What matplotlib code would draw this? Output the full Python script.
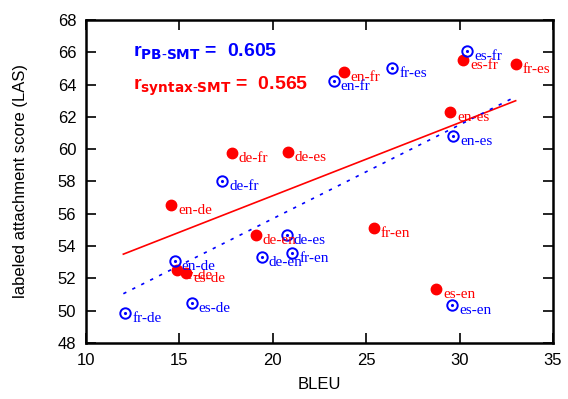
import matplotlib
matplotlib.use("Agg")
import matplotlib.pyplot as plt
import numpy as np

# syntax-SMT (red, filled)
syn_labels = ["de-fr", "de-es", "en-fr", "es-fr", "fr-es", "en-es",
              "en-de", "de-en", "fr-de", "es-de", "fr-en", "es-en"]
syn_bleu = [17.8, 20.8, 23.8, 30.2, 33.0, 29.5, 14.55, 19.1, 14.85, 15.35, 25.4, 28.75]
syn_las = [59.75, 59.85, 64.8, 65.5, 65.3, 62.3, 56.55, 54.7, 52.5, 52.35, 55.15, 51.35]

# PB-SMT (blue, open)
pb_labels = ["de-fr", "en-fr", "fr-es", "es-fr", "en-es", "en-de",
             "fr-de", "es-de", "de-en", "de-es", "fr-en", "es-en"]
pb_bleu = [17.3, 23.25, 26.4, 30.4, 29.65, 14.75, 12.1, 15.65, 19.4, 20.75, 21.05, 29.6]
pb_las = [58.05, 64.2, 65.05, 66.1, 60.8, 53.05, 49.85, 50.5, 53.3, 54.7, 53.6, 50.35]

# fitted lines (endpoints)
fit_x = [12.0, 33.0]
syn_fit = [53.5, 63.0]
pb_fit = [51.05, 63.25]

RED = "#ff0000"
BLUE = "#0000ff"

plt.rcParams["font.family"] = ["Liberation Sans", "DejaVu Sans"]

fig = plt.figure(figsize=(5.68, 3.99), dpi=100)
ax = fig.add_axes([0.1514, 0.1404, 0.8222, 0.8095])

ax.plot(fit_x, syn_fit, color=RED, lw=1.2)
ax.plot(fit_x, pb_fit, color=BLUE, lw=1.2, ls=(0, (2, 4)))

ax.plot(syn_bleu, syn_las, "o", color=RED, ms=7.5, mec=RED)
ax.plot(pb_bleu, pb_las, "o", mfc="none", mec=BLUE, ms=7.5, mew=1.4)
ax.plot(pb_bleu, pb_las, ".", color=BLUE, ms=2.5)

for x, y, s in zip(syn_bleu, syn_las, syn_labels):
    ax.annotate(s, (x, y), xytext=(5, -4), textcoords="offset points",
                ha="left", va="center", color=RED, fontsize=11,
                family="Liberation Serif")
for x, y, s in zip(pb_bleu, pb_las, pb_labels):
    ax.annotate(s, (x, y), xytext=(5, -4), textcoords="offset points",
                ha="left", va="center", color=BLUE, fontsize=11,
                family="Liberation Serif")

ax.text(0.1, 0.9, r"r$_{\mathbf{PB\text{-}SMT}}$ =  0.605", transform=ax.transAxes,
        color=BLUE, fontsize=14, fontweight="bold", va="center")
ax.text(0.1, 0.795, r"r$_{\mathbf{syntax\text{-}SMT}}$ =  0.565", transform=ax.transAxes,
        color=RED, fontsize=14, fontweight="bold", va="center")

ax.set_xlim(10, 35)
ax.set_ylim(48, 68)
ax.set_xticks(np.arange(10, 36, 5))
ax.set_yticks(np.arange(48, 69, 2))
ax.tick_params(direction="in", top=True, right=True, length=7, width=1.2,
               labelsize=12, pad=7)
for sp in ax.spines.values():
    sp.set_linewidth(1.8)
ax.set_xlabel("BLEU", fontsize=12)
ax.set_ylabel("labeled attachment score (LAS)", fontsize=12)
ax.xaxis.set_label_coords(0.5, -0.105)
ax.yaxis.set_label_coords(-0.125, 0.5)

fig.savefig("out.png", dpi=100)
